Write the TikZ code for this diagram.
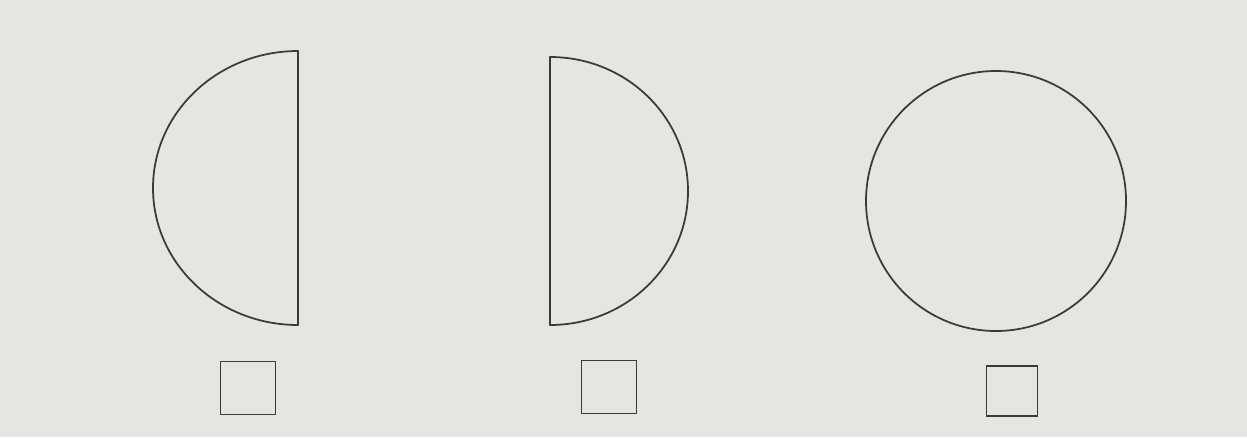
\documentclass[tikz,border=0pt]{standalone}
\usetikzlibrary{positioning}

\definecolor{paper}{HTML}{E6E5E1}
\definecolor{pencil}{HTML}{3A3A3A}

\begin{document}
\begin{tikzpicture}[x=0.02cm,y=-0.02cm]
\tikzset{
  outline/.style={draw=pencil,line width=1pt,line join=round},
  answerbox/.style={draw=pencil,line width=1pt,minimum width=1.1cm,minimum height=1.06cm,inner sep=0pt}
}
\fill[paper] (0,0) rectangle (1247,437);
\useasboundingbox (0,0) rectangle (1247,437);
% shapes
\draw[outline] (298,51) arc[start angle=-90,end angle=-270,x radius=145,y radius=137] -- cycle;
\draw[outline] (550,57) arc[start angle=-90,end angle=90,x radius=138,y radius=134] -- cycle;
\draw[outline] (996,201) circle[radius=130];
% boxes
\node[answerbox] (box_a) at (248,388) {};
\node[answerbox] (box_b) at (609,387) {};
\node[answerbox,minimum width=1.02cm,minimum height=1.0cm] (box_c) at (1012,391) {};
\end{tikzpicture}
\end{document}
